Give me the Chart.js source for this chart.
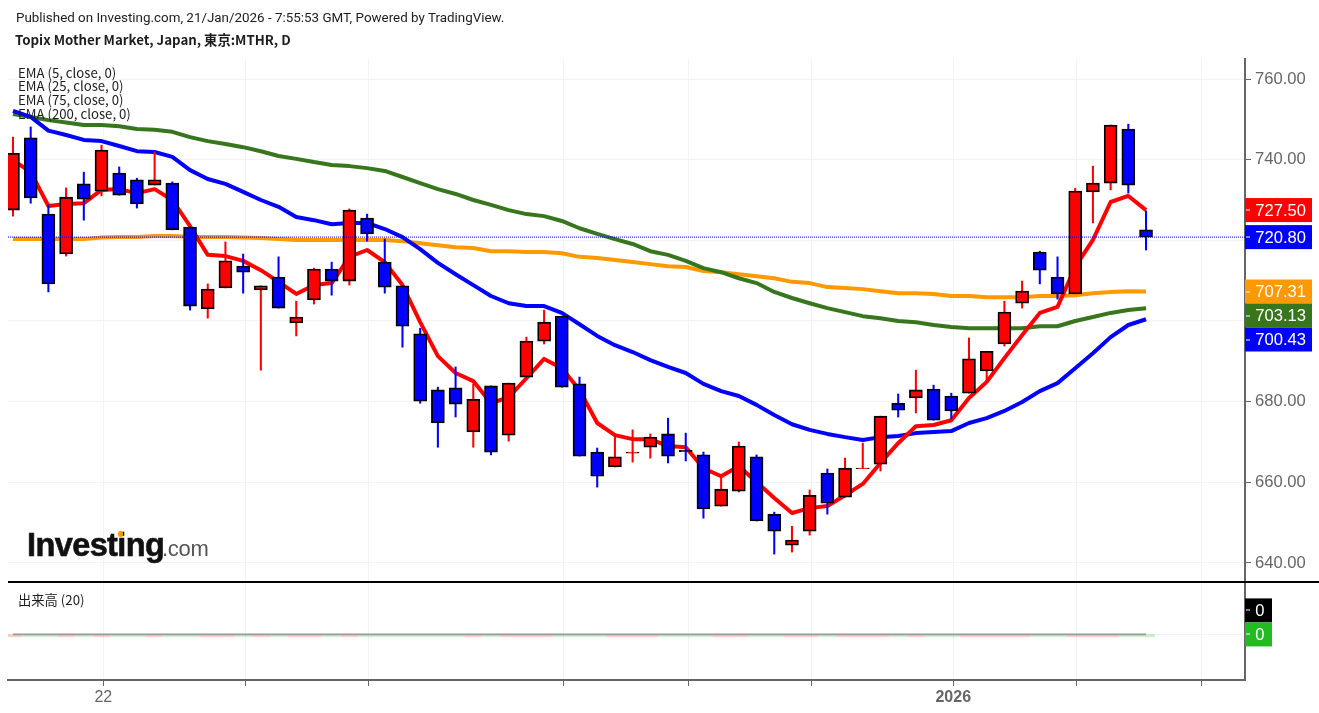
<!DOCTYPE html>
<html><head><meta charset="utf-8">
<script src="https://cdn.jsdelivr.net/npm/chart.js@4/dist/chart.umd.min.js"></script>
<style>
html,body{margin:0;padding:0;background:#fff;width:1319px;height:713px;overflow:hidden}
canvas{position:absolute;left:0}
.t{position:absolute;white-space:nowrap;z-index:5;color:#1c1c1c}
</style></head><body>
<canvas id="price" width="1319" height="583" style="top:0;width:1319px;height:583px"></canvas>
<canvas id="vol" width="1319" height="130" style="top:583px;width:1319px;height:130px"></canvas>
<div style="position:absolute;left:8px;top:581px;width:1311px;height:2px;background:#000;z-index:4"></div>
<div class="t" style="left:16px;top:10px;font:13.4px Roboto">Published on Investing.com, 21/Jan/2026 - 7:55:53 GMT, Powered by TradingView.</div>
<div class="t" style="left:15px;top:30px;font:bold 13.3px 'Noto Sans CJK JP'">Topix Mother Market, Japan, 東京:MTHR, D</div>
<div class="t" style="left:18px;top:63px;font:13.2px 'Noto Sans CJK JP'">EMA (5, close, 0)</div>
<div class="t" style="left:18px;top:76px;font:13.2px 'Noto Sans CJK JP'">EMA (25, close, 0)</div>
<div class="t" style="left:18px;top:90px;font:13.2px 'Noto Sans CJK JP'">EMA (75, close, 0)</div>
<div class="t" style="left:18px;top:104px;font:13.2px 'Noto Sans CJK JP'">EMA (200, close, 0)</div>
<div class="t" style="left:18px;top:590px;font:13.3px 'Noto Sans CJK JP'">出来高 (20)</div>
<div class="t" style="left:27px;top:527px;font:bold 32.5px 'Liberation Sans';letter-spacing:-.6px;color:#111;-webkit-text-stroke:.6px #111">Investing</div>
<div class="t" style="left:162px;top:536px;font:22px 'Liberation Sans';letter-spacing:-.3px;color:#555">.com</div>
<div style="position:absolute;left:118px;top:531px;width:5px;height:6px;border-radius:3px;background:#f90;z-index:6"></div>
<script>
const opens=[727.5,745.4,726.5,716.6,734.0,732.2,736.7,735.0,733.7,734.2,723.3,703.0,708.2,713.6,707.7,710.9,699.5,705.2,712.9,709.9,725.5,714.6,708.7,696.8,682.9,683.4,672.5,683.9,671.7,686.1,695.0,701.2,684.4,667.5,663.8,667.2,668.7,672.0,667.9,666.8,654.1,657.8,666.3,652.1,644.4,647.9,662.3,656.3,663.4,664.5,679.6,680.9,683.1,681.4,682.1,687.6,694.3,704.4,717.1,710.9,706.7,732.0,734.2,747.6,722.6];
const closes=[741.6,730.5,709.2,730.7,730.2,742.4,731.2,729.0,735.0,722.6,703.7,707.9,714.9,712.1,708.7,703.2,701.0,712.9,709.9,727.5,721.6,708.4,698.7,680.1,674.7,679.4,680.6,667.5,684.6,695.0,699.7,683.6,666.5,661.5,666.3,667.5,671.2,666.5,667.6,653.4,658.3,669.0,650.4,647.9,645.7,656.8,654.8,663.5,663.5,676.4,677.9,682.9,675.4,677.7,690.6,692.5,702.2,707.4,712.6,706.7,732.2,734.2,748.6,733.7,720.8];
const highs=[745.6,748.1,728.8,733.0,736.9,743.6,738.2,735.4,741.9,734.5,723.3,709.2,719.6,716.6,708.7,715.9,704.9,713.1,714.6,727.8,726.5,720.3,708.7,698.2,683.6,688.6,684.4,683.9,684.6,696.0,702.7,701.2,686.1,668.5,671.7,673.0,672.0,675.9,672.2,667.5,661.3,670.0,666.8,652.6,649.1,658.1,663.3,666.0,669.7,676.4,681.9,687.8,684.1,682.1,695.8,692.5,704.9,709.9,717.3,715.9,732.9,738.4,748.6,748.8,727.3];
const lows=[726.0,729.2,707.2,716.1,725.0,731.0,731.2,728.0,733.7,722.6,702.7,700.7,708.2,706.9,687.8,703.2,696.3,704.2,706.4,708.9,719.8,706.9,693.5,679.6,668.7,676.2,668.7,666.8,670.2,686.1,694.3,683.6,666.5,658.8,663.8,665.0,666.0,664.8,665.3,651.1,654.1,657.6,650.4,642.2,642.7,646.9,652.1,656.3,663.4,662.8,676.2,677.2,675.4,675.7,682.1,684.9,693.8,703.2,709.2,705.4,706.7,724.3,732.5,731.7,717.6];
const ema5=[739.9,736.9,728.5,729.0,729.2,732.5,732.7,731.7,732.7,730.0,723.5,716.4,716.1,714.9,712.6,709.7,706.7,708.9,709.4,715.9,717.6,714.6,708.9,699.7,691.3,687.1,685.1,679.6,681.1,685.8,690.6,688.3,682.9,674.7,671.7,670.7,670.7,669.0,668.7,663.5,661.5,664.0,660.1,656.1,652.4,653.6,654.1,656.8,659.6,664.8,669.7,673.9,674.2,675.4,680.9,684.9,690.8,696.5,702.0,703.5,713.4,720.1,729.5,731.0,727.5];
const ema25=[752.1,750.6,747.2,746.1,744.9,744.6,743.4,742.1,741.9,740.7,737.4,735.2,734.0,732.0,730.0,728.3,725.8,725.0,724.0,724.3,724.3,722.8,720.8,717.8,714.4,711.6,708.9,706.2,704.4,703.7,703.7,702.0,699.2,696.3,694.0,692.3,690.3,688.6,687.1,684.4,682.6,681.4,679.2,676.7,674.4,673.0,672.0,671.2,670.5,671.2,671.5,672.2,672.5,672.7,674.7,675.9,677.7,679.9,682.6,684.6,688.3,692.0,696.0,699.0,700.43];
const ema75=[751.3,750.6,749.8,749.2,748.6,748.6,748.3,747.6,747.4,746.9,745.6,744.6,743.9,743.1,742.1,740.9,740.2,739.4,738.7,738.4,737.9,737.2,735.7,734.2,732.7,731.5,730.0,728.8,727.5,726.5,726.0,724.8,723.0,721.6,720.3,719.1,717.3,716.4,714.9,713.1,712.1,710.6,709.4,707.2,705.7,704.4,703.2,702.2,701.2,700.7,700.0,699.7,699.0,698.5,698.2,698.2,698.2,698.2,698.7,698.7,700.0,701.0,702.0,702.7,703.13];
const ema200=[720.3,720.3,720.3,720.3,720.3,720.7,720.8,720.8,721.1,721.1,720.9,720.8,720.8,720.7,720.6,720.3,720.1,720.1,720.1,720.1,720.1,720.1,719.8,719.3,718.8,718.3,718.1,717.3,717.3,717.1,717.1,716.8,715.9,715.6,715.1,714.6,714.1,713.6,713.4,712.4,712.1,711.6,711.1,710.6,709.7,709.4,708.4,708.2,707.9,707.4,706.9,706.9,706.7,706.2,706.2,705.9,705.9,705.9,706.2,706.2,706.4,706.9,707.2,707.4,707.31];
const volumes=opens.map(()=>0);
const volumeMA=opens.map(()=>0);
const priceTicks=[640,660,680,700,720,740,760];
const timeTicks=[5.10,13.14,20.07,31.08,38.17,45.09,53.11,60.08,67.14];
const timeLabels=["22","","","","","","2026","",""];
const lastClose=720.8;

const RED='#ff0000',BLUE='#0000ff',GREEN='#38761d',ORANGE='#ff9900',AXIS='#666666',GRID='#f3f3f3';
const xMin=-0.282,xMax=69.59;
const up=opens.map((o,i)=>closes[i]>=o);
const pts=a=>a.map((y,x)=>({x,y}));
const lineDs=(data,color,order,w=4)=>({type:'line',data:pts(data),borderColor:color,borderWidth:w,pointRadius:0,tension:0,order,borderJoinStyle:'round',borderCapStyle:'butt'});
const noPad=s=>{s.paddingTop=0;s.paddingBottom=0;s.paddingLeft=0;s.paddingRight=0;};
const xBase=()=>({type:'linear',offset:false,min:xMin,max:xMax,afterBuildTicks:s=>{s.ticks=timeTicks.map(value=>({value}));}});
const tagPlugin=tags=>({id:'tags',afterDraw(c){
  const s=c.scales.y,g=c.ctx;let prev=-1e9;
  g.save();
  tags.forEach(t=>{
    let y=s.getPixelForValue(t.value)+(t.shift||0);
    if(!t.shift&&y<prev+24)y=prev+24;
    if(!t.shift)prev=y;
    g.fillStyle=t.color;g.fillRect(1245,y-12,t.w,24);
    g.fillStyle='#fff';g.fillRect(1246,Math.round(y)-.5,4,1);
    g.font='16.6px "Liberation Sans"';g.textBaseline='middle';g.textAlign='right';
    g.fillText(t.text,1245+t.w-(t.w>40?6:7.5),y+1);
  });
  g.restore();
}});

new Chart(document.getElementById('price'),{
  data:{datasets:[
    {type:'line',data:[{x:xMin,y:lastClose},{x:xMax,y:lastClose}],borderColor:'#0000ff',borderWidth:1,borderDash:[1,1],pointRadius:0,order:0},
    {type:'bar',grouped:false,data:opens.map((o,i)=>({x:i,y:[o,closes[i]]})),barThickness:13,backgroundColor:up.map(u=>u?RED:BLUE),borderColor:'#000',borderWidth:1.8,borderSkipped:false,order:1},
    {type:'bar',grouped:false,data:lows.map((l,i)=>({x:i,y:[l,highs[i]]})),barThickness:1.4,backgroundColor:up.map(u=>u?RED:BLUE),borderWidth:0,order:2},
    lineDs(ema5,RED,3),lineDs(ema25,BLUE,4),lineDs(ema75,GREEN,5),lineDs(ema200,ORANGE,6)
  ]},
  options:{responsive:false,animation:false,layout:{padding:{left:8,top:59,right:0,bottom:2}},
    plugins:{legend:{display:false},tooltip:{enabled:false},title:{display:false}},
    scales:{
      x:{...xBase(),grid:{offset:false,color:GRID,lineWidth:1,drawTicks:false},ticks:{display:false},border:{display:false},afterFit:s=>{s.height=0;noPad(s);}},
      y:{type:'linear',position:'right',min:635.53,max:764.96,
        afterBuildTicks:s=>{s.ticks=priceTicks.map(value=>({value}));},
        afterFit:s=>{s.width=74;noPad(s);},
        grid:{color:GRID,lineWidth:1,tickColor:AXIS,tickLength:6,tickWidth:1},
        border:{color:AXIS,width:2},
        ticks:{color:AXIS,padding:4,font:{family:'"Liberation Sans"',size:16.6},callback:v=>v.toFixed(2)}}
    }},
  plugins:[tagPlugin([
    {value:ema5[64],text:ema5[64].toFixed(2),color:RED,w:67},
    {value:lastClose,text:lastClose.toFixed(2),color:BLUE,w:67},
    {value:ema200[64],text:ema200[64].toFixed(2),color:ORANGE,w:67},
    {value:ema75[64],text:ema75[64].toFixed(2),color:GREEN,w:67},
    {value:ema25[64],text:ema25[64].toFixed(2),color:BLUE,w:67}
  ])]
});

new Chart(document.getElementById('vol'),{
  data:{datasets:[
    {type:'line',data:pts(volumeMA),borderColor:'#999999',borderWidth:1.6,pointRadius:0,order:0},
    {type:'bar',base:-0.05,data:volumes.map((y,x)=>({x,y})),barThickness:17,backgroundColor:up.map(u=>u?'rgba(255,0,0,.2)':'rgba(0,190,0,.2)'),borderWidth:0,order:1}
  ]},
  options:{responsive:false,animation:false,layout:{padding:{left:8,top:0,right:0,bottom:0}},
    plugins:{legend:{display:false},tooltip:{enabled:false}},
    scales:{
      x:{...xBase(),afterFit:s=>{s.height=33;noPad(s);},
        grid:{offset:false,color:GRID,lineWidth:1,tickColor:AXIS,tickLength:6},
        border:{color:AXIS,width:2},
        ticks:{color:AXIS,padding:2,maxRotation:0,autoSkip:false,
          callback:(v,i)=>timeLabels[i],
          font:c=>({family:'"Liberation Sans"',size:16,weight:c.index===6?'bold':'normal'})}},
      y:{type:'linear',position:'right',min:-0.94,max:1.06,
        afterBuildTicks:s=>{s.ticks=[{value:0}];},
        afterFit:s=>{s.width=74;noPad(s);},
        grid:{color:GRID,lineWidth:1,tickLength:6,drawTicks:false},
        border:{color:AXIS,width:2},
        ticks:{display:false}}
    }},
  plugins:[tagPlugin([
    {value:0,text:'0',color:'#000000',w:27,shift:-24},
    {value:0,text:'0',color:'#22bb22',w:27}
  ])]
});
</script>
</body></html>
